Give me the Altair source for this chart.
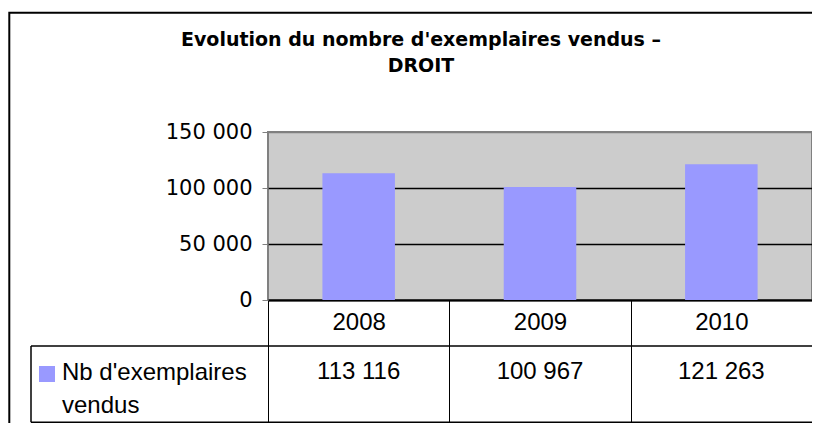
import altair as alt
import pandas as pd

# ---- data ----
years = ["2008", "2009", "2010"]
values = [113116, 100967, 121263]
series_name = "Nb d'exemplaires vendus"
y_ticks = [0, 50000, 100000, 150000]
title_lines = ["Evolution du nombre d'exemplaires vendus \u2013", "DROIT"]

BAR_COLOR = "#9999FF"
PLOT_BG = "#CCCCCC"
GREY = "#808080"

df = pd.DataFrame({"year": years, "value": values, "series": [series_name] * len(years)})
leg_df = pd.DataFrame({"series": [series_name]})

W, H = 544, 168

x_enc = alt.X(
    "year:N",
    sort=years,
    scale=alt.Scale(paddingInner=0, paddingOuter=0),
    axis=alt.Axis(
        title=None,
        orient="bottom",
        labelAngle=0,
        tickBand="extent",
        tickSize=123,
        tickColor="black",
        tickWidth=1,
        domainColor="black",
        domainWidth=2,
        labelFont="Liberation Sans",
        labelFontSize=24,
        labelColor="black",
        labelBaseline="top",
        labelPadding=-113,
        grid=False,
    ),
)
color_enc = alt.Color(
    "series:N", scale=alt.Scale(domain=[series_name], range=[BAR_COLOR]), legend=None
)

bars = alt.Chart(df).mark_bar(width=alt.RelativeBandSize(0.4)).encode(
    x=x_enc,
    y=alt.Y(
        "value:Q",
        scale=alt.Scale(domain=[0, 150000], nice=False),
        axis=alt.Axis(
            title=None,
            values=y_ticks,
            format=",d",
            labelFont="DejaVu Sans",
            labelFontSize=21,
            labelColor="black",
            tickColor=GREY,
            tickSize=6,
            labelPadding=10,
            domain=False,
            grid=True,
            gridColor={"condition": {"test": "datum.value >= 150000", "value": GREY}, "value": "black"},
            gridWidth=1.5,
        ),
    ),
    color=color_enc,
)

value_text = alt.Chart(df).mark_text(
    font="Liberation Sans", fontSize=24, align="center", baseline="alphabetic", color="black"
).encode(
    x=alt.X("year:N", sort=years),
    y=alt.value(247),
    text=alt.Text("value:Q", format=",d"),
)

# table lines and chart frame (decoration)
def hrule(y, x1, x2, color="black", w=1.5):
    return alt.Chart(leg_df).mark_rule(color=color, strokeWidth=w).encode(
        x=alt.value(x1), x2=alt.value(x2), y=alt.value(y), y2=alt.value(y)
    )

def vrule(x, y1, y2, color="black", w=1.5):
    return alt.Chart(leg_df).mark_rule(color=color, strokeWidth=w).encode(
        x=alt.value(x), x2=alt.value(x), y=alt.value(y1), y2=alt.value(y2)
    )

table_lines = [
    hrule(214, -237, 544),
    hrule(290.3, -237, 544),
    vrule(-237, 214, 290.3),
]

# outer chart frame: its right and bottom edges fall outside the page
frame = alt.Chart(leg_df).mark_rect(fill=None, stroke="black", strokeWidth=2).encode(
    x=alt.value(-258.7), x2=alt.value(620), y=alt.value(-119.3), y2=alt.value(420)
)

swatch = alt.Chart(leg_df).mark_square(size=256, opacity=1).encode(
    x=alt.value(-221), y=alt.value(242), color=color_enc
)

legend_text = alt.Chart(leg_df).transform_calculate(
    lines="[slice(datum.series, 0, lastindexof(datum.series, ' ')), slice(datum.series, lastindexof(datum.series, ' ') + 1)]"
).mark_text(
    font="Liberation Sans", fontSize=24, align="left", baseline="alphabetic",
    lineHeight=33, color="black"
).encode(
    x=alt.value(-206), y=alt.value(248), text="lines:N"
)

chart = alt.layer(bars, value_text, swatch, legend_text, *table_lines, frame).properties(
    width=W,
    height=H,
    autosize=alt.AutoSizeParams(type="none"),
    padding={"left": 260, "top": 124, "right": 0, "bottom": 123},
    title=alt.TitleParams(
        text=title_lines,
        font="DejaVu Sans",
        fontSize=19,
        fontWeight="bold",
        color="black",
        anchor="middle",
        frame="group",
        dx=-119,
        offset=0,
        dy=83,
        baseline="bottom",
        lineHeight=26,
    ),
).configure(
    background="white",
    locale={"number": {"decimal": ",", "thousands": "\u00a0", "grouping": [3], "currency": ["", " \u20ac"]}},
).configure_view(
    fill=PLOT_BG, stroke=GREY, strokeWidth=2
)

chart.save("out.html", embed_options={"renderer": "svg", "actions": False})
